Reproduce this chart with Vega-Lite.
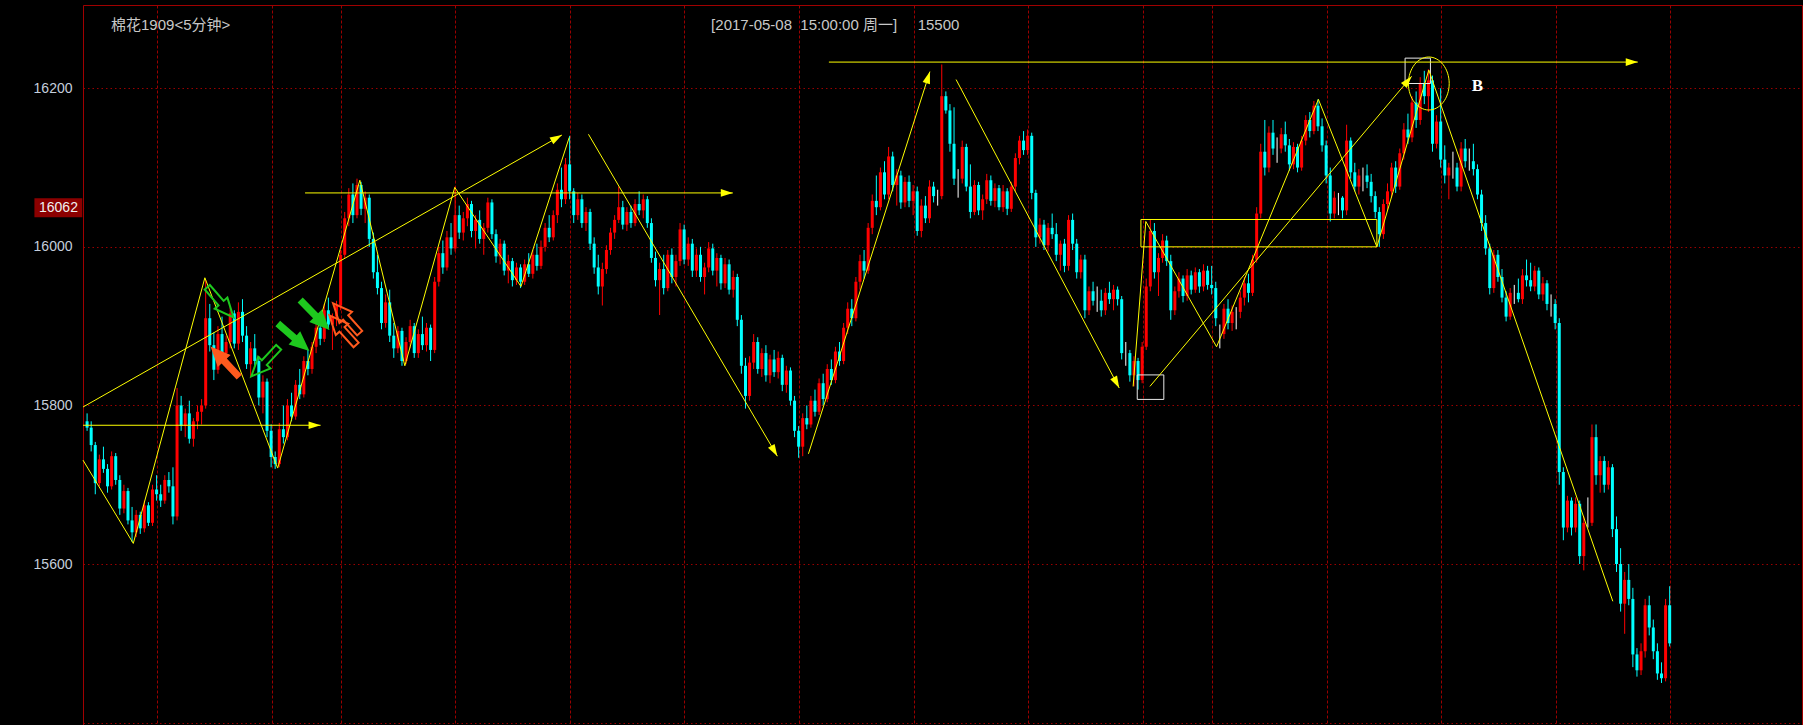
{
"$schema": "https://vega.github.io/schema/vega-lite/v6.json",
"width": 1719, "height": 720,
"autosize": {"type": "none"},
"padding": {"left": 83, "top": 5, "right": 1, "bottom": 0},
"background": "#000000",
"config": {"view": {"stroke": "#a00000", "strokeWidth": 1}},
"datasets": {
"bars": [
{"t":1,"o":15780,"h":15790,"l":15768,"c":15772},{"t":2,"o":15772,"h":15780,"l":15742,"c":15750},{"t":3,"o":15750,"h":15754,"l":15688,"c":15702},{"t":4,"o":15702,"h":15738,"l":15698,"c":15732},{"t":5,"o":15732,"h":15748,"l":15715,"c":15720},{"t":6,"o":15720,"h":15726,"l":15690,"c":15698},{"t":7,"o":15698,"h":15742,"l":15694,"c":15736},{"t":8,"o":15736,"h":15740,"l":15700,"c":15706},{"t":9,"o":15706,"h":15712,"l":15662,"c":15670},{"t":10,"o":15670,"h":15700,"l":15664,"c":15692},
{"t":11,"o":15692,"h":15696,"l":15650,"c":15655},{"t":12,"o":15655,"h":15672,"l":15628,"c":15640},{"t":13,"o":15640,"h":15668,"l":15634,"c":15662},{"t":14,"o":15662,"h":15666,"l":15638,"c":15645},{"t":15,"o":15645,"h":15680,"l":15640,"c":15674},{"t":16,"o":15674,"h":15678,"l":15648,"c":15652},{"t":17,"o":15652,"h":15700,"l":15648,"c":15694},{"t":18,"o":15694,"h":15712,"l":15680,"c":15688},{"t":19,"o":15688,"h":15700,"l":15672,"c":15680},{"t":20,"o":15680,"h":15712,"l":15676,"c":15706},
{"t":21,"o":15706,"h":15716,"l":15690,"c":15698},{"t":22,"o":15698,"h":15722,"l":15650,"c":15660},{"t":23,"o":15660,"h":15822,"l":15655,"c":15800},{"t":24,"o":15800,"h":15812,"l":15768,"c":15774},{"t":25,"o":15774,"h":15796,"l":15760,"c":15790},{"t":26,"o":15790,"h":15806,"l":15752,"c":15758},{"t":27,"o":15758,"h":15784,"l":15748,"c":15780},{"t":28,"o":15780,"h":15800,"l":15770,"c":15792},{"t":29,"o":15792,"h":15808,"l":15776,"c":15800},{"t":30,"o":15800,"h":15958,"l":15796,"c":15910},
{"t":31,"o":15910,"h":15928,"l":15868,"c":15876},{"t":32,"o":15876,"h":15892,"l":15832,"c":15845},{"t":33,"o":15845,"h":15900,"l":15840,"c":15890},{"t":34,"o":15890,"h":15912,"l":15860,"c":15866},{"t":35,"o":15866,"h":15888,"l":15850,"c":15880},{"t":36,"o":15880,"h":15924,"l":15872,"c":15916},{"t":37,"o":15916,"h":15920,"l":15872,"c":15878},{"t":38,"o":15878,"h":15930,"l":15870,"c":15918},{"t":39,"o":15918,"h":15934,"l":15880,"c":15888},{"t":40,"o":15888,"h":15900,"l":15846,"c":15852},
{"t":41,"o":15852,"h":15880,"l":15836,"c":15872},{"t":42,"o":15872,"h":15890,"l":15850,"c":15856},{"t":43,"o":15856,"h":15862,"l":15800,"c":15810},{"t":44,"o":15810,"h":15838,"l":15790,"c":15830},{"t":45,"o":15830,"h":15834,"l":15760,"c":15768},{"t":46,"o":15768,"h":15776,"l":15722,"c":15735},{"t":47,"o":15735,"h":15742,"l":15720,"c":15726},{"t":48,"o":15726,"h":15778,"l":15722,"c":15770},{"t":49,"o":15770,"h":15800,"l":15752,"c":15760},{"t":50,"o":15760,"h":15808,"l":15756,"c":15800},
{"t":51,"o":15800,"h":15816,"l":15780,"c":15786},{"t":52,"o":15786,"h":15832,"l":15782,"c":15826},{"t":53,"o":15826,"h":15846,"l":15808,"c":15814},{"t":54,"o":15814,"h":15862,"l":15810,"c":15856},{"t":55,"o":15856,"h":15870,"l":15838,"c":15846},{"t":56,"o":15846,"h":15880,"l":15840,"c":15874},{"t":57,"o":15874,"h":15905,"l":15866,"c":15898},{"t":58,"o":15898,"h":15912,"l":15876,"c":15884},{"t":59,"o":15884,"h":15928,"l":15880,"c":15920},{"t":60,"o":15920,"h":15936,"l":15896,"c":15902},
{"t":61,"o":15902,"h":15916,"l":15870,"c":15912},{"t":62,"o":15912,"h":15932,"l":15900,"c":15926},{"t":63,"o":15926,"h":15996,"l":15920,"c":15990},{"t":64,"o":15990,"h":16044,"l":15986,"c":16036},{"t":65,"o":16036,"h":16074,"l":16026,"c":16066},{"t":66,"o":16066,"h":16080,"l":16030,"c":16040},{"t":67,"o":16040,"h":16086,"l":16036,"c":16078},{"t":68,"o":16078,"h":16082,"l":16040,"c":16048},{"t":69,"o":16048,"h":16070,"l":16030,"c":16062},{"t":70,"o":16062,"h":16066,"l":16000,"c":16010},
{"t":71,"o":16010,"h":16018,"l":15960,"c":15968},{"t":72,"o":15968,"h":15990,"l":15940,"c":15948},{"t":73,"o":15948,"h":15956,"l":15896,"c":15904},{"t":74,"o":15904,"h":15940,"l":15898,"c":15930},{"t":75,"o":15930,"h":15946,"l":15880,"c":15888},{"t":76,"o":15888,"h":15904,"l":15860,"c":15872},{"t":77,"o":15872,"h":15900,"l":15866,"c":15894},{"t":78,"o":15894,"h":15898,"l":15850,"c":15856},{"t":79,"o":15856,"h":15886,"l":15852,"c":15880},{"t":80,"o":15880,"h":15908,"l":15872,"c":15900},
{"t":81,"o":15900,"h":15904,"l":15860,"c":15866},{"t":82,"o":15866,"h":15896,"l":15860,"c":15890},{"t":83,"o":15890,"h":15912,"l":15870,"c":15876},{"t":84,"o":15876,"h":15904,"l":15868,"c":15898},{"t":85,"o":15898,"h":15902,"l":15856,"c":15870},{"t":86,"o":15870,"h":15962,"l":15866,"c":15956},{"t":87,"o":15956,"h":16000,"l":15950,"c":15992},{"t":88,"o":15992,"h":16008,"l":15966,"c":15974},{"t":89,"o":15974,"h":16020,"l":15970,"c":16012},{"t":90,"o":16012,"h":16030,"l":15990,"c":15998},
{"t":91,"o":15998,"h":16076,"l":15994,"c":16040},{"t":92,"o":16040,"h":16052,"l":16010,"c":16018},{"t":93,"o":16018,"h":16044,"l":16008,"c":16036},{"t":94,"o":16036,"h":16062,"l":16026,"c":16054},{"t":95,"o":16054,"h":16058,"l":16012,"c":16020},{"t":96,"o":16020,"h":16040,"l":15998,"c":16034},{"t":97,"o":16034,"h":16046,"l":16004,"c":16010},{"t":98,"o":16010,"h":16030,"l":15990,"c":16024},{"t":99,"o":16024,"h":16062,"l":16018,"c":16056},{"t":100,"o":16056,"h":16060,"l":16010,"c":16016},
{"t":101,"o":16016,"h":16022,"l":15980,"c":15988},{"t":102,"o":15988,"h":16010,"l":15978,"c":16004},{"t":103,"o":16004,"h":16008,"l":15964,"c":15970},{"t":104,"o":15970,"h":15990,"l":15954,"c":15982},{"t":105,"o":15982,"h":15986,"l":15950,"c":15958},{"t":106,"o":15958,"h":15980,"l":15952,"c":15974},{"t":107,"o":15974,"h":15978,"l":15948,"c":15956},{"t":108,"o":15956,"h":15984,"l":15952,"c":15978},{"t":109,"o":15978,"h":15992,"l":15962,"c":15966},{"t":110,"o":15966,"h":15996,"l":15960,"c":15990},
{"t":111,"o":15990,"h":16004,"l":15970,"c":15976},{"t":112,"o":15976,"h":16008,"l":15972,"c":16000},{"t":113,"o":16000,"h":16030,"l":15994,"c":16024},{"t":114,"o":16024,"h":16040,"l":16006,"c":16012},{"t":115,"o":16012,"h":16046,"l":16008,"c":16040},{"t":116,"o":16040,"h":16080,"l":16030,"c":16072},{"t":117,"o":16072,"h":16100,"l":16050,"c":16060},{"t":118,"o":16060,"h":16112,"l":16054,"c":16104},{"t":119,"o":16104,"h":16140,"l":16060,"c":16070},{"t":120,"o":16070,"h":16074,"l":16030,"c":16040},
{"t":121,"o":16040,"h":16068,"l":16034,"c":16060},{"t":122,"o":16060,"h":16066,"l":16024,"c":16030},{"t":123,"o":16030,"h":16050,"l":16020,"c":16044},{"t":124,"o":16044,"h":16048,"l":15996,"c":16004},{"t":125,"o":16004,"h":16012,"l":15966,"c":15974},{"t":126,"o":15974,"h":15990,"l":15940,"c":15950},{"t":127,"o":15950,"h":15980,"l":15926,"c":15972},{"t":128,"o":15972,"h":16002,"l":15966,"c":15996},{"t":129,"o":15996,"h":16024,"l":15990,"c":16018},{"t":130,"o":16018,"h":16040,"l":16010,"c":16034},
{"t":131,"o":16034,"h":16076,"l":16030,"c":16050},{"t":132,"o":16050,"h":16058,"l":16022,"c":16028},{"t":133,"o":16028,"h":16050,"l":16020,"c":16044},{"t":134,"o":16044,"h":16052,"l":16024,"c":16030},{"t":135,"o":16030,"h":16060,"l":16026,"c":16054},{"t":136,"o":16054,"h":16070,"l":16040,"c":16046},{"t":137,"o":16046,"h":16066,"l":16036,"c":16060},{"t":138,"o":16060,"h":16064,"l":16024,"c":16030},{"t":139,"o":16030,"h":16036,"l":15980,"c":15986},{"t":140,"o":15986,"h":15994,"l":15950,"c":15958},
{"t":141,"o":15958,"h":15980,"l":15914,"c":15972},{"t":142,"o":15972,"h":15990,"l":15940,"c":15948},{"t":143,"o":15948,"h":15996,"l":15944,"c":15990},{"t":144,"o":15990,"h":15998,"l":15954,"c":15962},{"t":145,"o":15962,"h":15990,"l":15950,"c":15982},{"t":146,"o":15982,"h":16030,"l":15976,"c":16022},{"t":147,"o":16022,"h":16028,"l":15978,"c":15984},{"t":148,"o":15984,"h":16012,"l":15976,"c":16004},{"t":149,"o":16004,"h":16010,"l":15962,"c":15970},{"t":150,"o":15970,"h":15998,"l":15962,"c":15990},
{"t":151,"o":15990,"h":16000,"l":15956,"c":15962},{"t":152,"o":15962,"h":15980,"l":15940,"c":15974},{"t":153,"o":15974,"h":16006,"l":15968,"c":15998},{"t":154,"o":15998,"h":16004,"l":15964,"c":15970},{"t":155,"o":15970,"h":15992,"l":15950,"c":15986},{"t":156,"o":15986,"h":15990,"l":15946,"c":15954},{"t":157,"o":15954,"h":15986,"l":15948,"c":15978},{"t":158,"o":15978,"h":15984,"l":15940,"c":15946},{"t":159,"o":15946,"h":15970,"l":15936,"c":15962},{"t":160,"o":15962,"h":15966,"l":15900,"c":15908},
{"t":161,"o":15908,"h":15914,"l":15840,"c":15850},{"t":162,"o":15850,"h":15860,"l":15796,"c":15812},{"t":163,"o":15812,"h":15862,"l":15806,"c":15854},{"t":164,"o":15854,"h":15890,"l":15846,"c":15880},{"t":165,"o":15880,"h":15886,"l":15840,"c":15846},{"t":166,"o":15846,"h":15872,"l":15836,"c":15866},{"t":167,"o":15866,"h":15876,"l":15830,"c":15838},{"t":168,"o":15838,"h":15864,"l":15828,"c":15858},{"t":169,"o":15858,"h":15870,"l":15836,"c":15842},{"t":170,"o":15842,"h":15868,"l":15834,"c":15860},
{"t":171,"o":15860,"h":15864,"l":15818,"c":15826},{"t":172,"o":15826,"h":15850,"l":15816,"c":15844},{"t":173,"o":15844,"h":15848,"l":15800,"c":15806},{"t":174,"o":15806,"h":15812,"l":15760,"c":15768},{"t":175,"o":15768,"h":15774,"l":15734,"c":15748},{"t":176,"o":15748,"h":15790,"l":15736,"c":15784},{"t":177,"o":15784,"h":15800,"l":15770,"c":15776},{"t":178,"o":15776,"h":15812,"l":15772,"c":15806},{"t":179,"o":15806,"h":15820,"l":15786,"c":15792},{"t":180,"o":15792,"h":15834,"l":15788,"c":15828},
{"t":181,"o":15828,"h":15840,"l":15800,"c":15808},{"t":182,"o":15808,"h":15852,"l":15804,"c":15846},{"t":183,"o":15846,"h":15858,"l":15826,"c":15832},{"t":184,"o":15832,"h":15874,"l":15828,"c":15868},{"t":185,"o":15868,"h":15880,"l":15850,"c":15856},{"t":186,"o":15856,"h":15904,"l":15852,"c":15898},{"t":187,"o":15898,"h":15930,"l":15890,"c":15922},{"t":188,"o":15922,"h":15934,"l":15900,"c":15910},{"t":189,"o":15910,"h":15962,"l":15906,"c":15956},{"t":190,"o":15956,"h":15990,"l":15946,"c":15982},
{"t":191,"o":15982,"h":15996,"l":15960,"c":15970},{"t":192,"o":15970,"h":16030,"l":15966,"c":16024},{"t":193,"o":16024,"h":16066,"l":16016,"c":16058},{"t":194,"o":16058,"h":16090,"l":16040,"c":16050},{"t":195,"o":16050,"h":16100,"l":16046,"c":16094},{"t":196,"o":16094,"h":16108,"l":16060,"c":16066},{"t":197,"o":16066,"h":16126,"l":16060,"c":16114},{"t":198,"o":16114,"h":16120,"l":16070,"c":16078},{"t":199,"o":16078,"h":16098,"l":16052,"c":16090},{"t":200,"o":16090,"h":16096,"l":16048,"c":16056},
{"t":201,"o":16056,"h":16088,"l":16050,"c":16082},{"t":202,"o":16082,"h":16090,"l":16050,"c":16058},{"t":203,"o":16058,"h":16078,"l":16040,"c":16070},{"t":204,"o":16070,"h":16076,"l":16014,"c":16020},{"t":205,"o":16020,"h":16060,"l":16012,"c":16052},{"t":206,"o":16052,"h":16064,"l":16030,"c":16036},{"t":207,"o":16036,"h":16084,"l":16030,"c":16076},{"t":208,"o":16076,"h":16082,"l":16056,"c":16064},{"t":209,"o":16064,"h":16072,"l":16052,"c":16064},{"t":210,"o":16064,"h":16230,"l":16060,"c":16190},
{"t":211,"o":16190,"h":16196,"l":16168,"c":16172},{"t":212,"o":16172,"h":16180,"l":16120,"c":16130},{"t":213,"o":16130,"h":16176,"l":16078,"c":16086},{"t":214,"o":16086,"h":16098,"l":16062,"c":16086},{"t":215,"o":16086,"h":16134,"l":16080,"c":16126},{"t":216,"o":16126,"h":16130,"l":16070,"c":16076},{"t":217,"o":16076,"h":16104,"l":16036,"c":16044},{"t":218,"o":16044,"h":16084,"l":16040,"c":16078},{"t":219,"o":16078,"h":16082,"l":16040,"c":16046},{"t":220,"o":16046,"h":16066,"l":16034,"c":16060},
{"t":221,"o":16060,"h":16092,"l":16054,"c":16084},{"t":222,"o":16084,"h":16090,"l":16052,"c":16058},{"t":223,"o":16058,"h":16080,"l":16050,"c":16074},{"t":224,"o":16074,"h":16078,"l":16046,"c":16050},{"t":225,"o":16050,"h":16078,"l":16044,"c":16070},{"t":226,"o":16070,"h":16074,"l":16040,"c":16048},{"t":227,"o":16048,"h":16082,"l":16044,"c":16076},{"t":228,"o":16076,"h":16118,"l":16070,"c":16112},{"t":229,"o":16112,"h":16140,"l":16104,"c":16134},{"t":230,"o":16134,"h":16146,"l":16116,"c":16122},
{"t":231,"o":16122,"h":16148,"l":16116,"c":16140},{"t":232,"o":16140,"h":16144,"l":16060,"c":16068},{"t":233,"o":16068,"h":16072,"l":16000,"c":16012},{"t":234,"o":16012,"h":16036,"l":16004,"c":16028},{"t":235,"o":16028,"h":16034,"l":15996,"c":16002},{"t":236,"o":16002,"h":16030,"l":15994,"c":16024},{"t":237,"o":16024,"h":16042,"l":16010,"c":16016},{"t":238,"o":16016,"h":16030,"l":15982,"c":15990},{"t":239,"o":15990,"h":16008,"l":15970,"c":16004},{"t":240,"o":16004,"h":16010,"l":15968,"c":15976},
{"t":241,"o":15976,"h":16040,"l":15970,"c":16034},{"t":242,"o":16034,"h":16042,"l":15996,"c":16004},{"t":243,"o":16004,"h":16010,"l":15960,"c":15968},{"t":244,"o":15968,"h":15990,"l":15960,"c":15984},{"t":245,"o":15984,"h":15990,"l":15910,"c":15920},{"t":246,"o":15920,"h":15950,"l":15914,"c":15944},{"t":247,"o":15944,"h":15956,"l":15926,"c":15932},{"t":248,"o":15932,"h":15950,"l":15918,"c":15932},{"t":249,"o":15932,"h":15946,"l":15912,"c":15920},{"t":250,"o":15920,"h":15948,"l":15914,"c":15942},
{"t":251,"o":15942,"h":15956,"l":15928,"c":15934},{"t":252,"o":15934,"h":15952,"l":15920,"c":15946},{"t":253,"o":15946,"h":15950,"l":15926,"c":15934},{"t":254,"o":15934,"h":15938,"l":15858,"c":15866},{"t":255,"o":15866,"h":15880,"l":15850,"c":15866},{"t":256,"o":15866,"h":15870,"l":15830,"c":15838},{"t":257,"o":15838,"h":15862,"l":15824,"c":15856},{"t":258,"o":15856,"h":15860,"l":15820,"c":15832},{"t":259,"o":15832,"h":15880,"l":15828,"c":15874},{"t":260,"o":15874,"h":15960,"l":15870,"c":15950},
{"t":261,"o":15950,"h":16034,"l":15944,"c":16020},{"t":262,"o":16020,"h":16030,"l":15960,"c":15968},{"t":263,"o":15968,"h":15992,"l":15938,"c":15986},{"t":264,"o":15986,"h":16016,"l":15980,"c":16008},{"t":265,"o":16008,"h":16014,"l":15976,"c":15982},{"t":266,"o":15982,"h":15990,"l":15908,"c":15920},{"t":267,"o":15920,"h":15950,"l":15914,"c":15944},{"t":268,"o":15944,"h":15968,"l":15936,"c":15960},{"t":269,"o":15960,"h":15964,"l":15930,"c":15938},{"t":270,"o":15938,"h":15972,"l":15932,"c":15964},
{"t":271,"o":15964,"h":15970,"l":15940,"c":15946},{"t":272,"o":15946,"h":15974,"l":15942,"c":15968},{"t":273,"o":15968,"h":15972,"l":15942,"c":15950},{"t":274,"o":15950,"h":15978,"l":15944,"c":15970},{"t":275,"o":15970,"h":15976,"l":15946,"c":15952},{"t":276,"o":15952,"h":15976,"l":15940,"c":15948},{"t":277,"o":15948,"h":15956,"l":15900,"c":15910},{"t":278,"o":15890,"h":15902,"l":15872,"c":15890},{"t":279,"o":15890,"h":15928,"l":15884,"c":15922},{"t":280,"o":15922,"h":15934,"l":15896,"c":15904},
{"t":281,"o":15904,"h":15926,"l":15894,"c":15918},{"t":282,"o":15918,"h":15924,"l":15896,"c":15918},{"t":283,"o":15918,"h":15944,"l":15910,"c":15936},{"t":284,"o":15936,"h":15962,"l":15926,"c":15954},{"t":285,"o":15954,"h":15966,"l":15930,"c":15942},{"t":286,"o":15942,"h":15990,"l":15938,"c":15984},{"t":287,"o":15984,"h":16050,"l":15980,"c":16042},{"t":288,"o":16042,"h":16130,"l":16036,"c":16120},{"t":289,"o":16120,"h":16160,"l":16090,"c":16100},{"t":290,"o":16100,"h":16152,"l":16094,"c":16144},
{"t":291,"o":16144,"h":16160,"l":16116,"c":16124},{"t":292,"o":16124,"h":16138,"l":16106,"c":16124},{"t":293,"o":16124,"h":16150,"l":16118,"c":16142},{"t":294,"o":16142,"h":16158,"l":16120,"c":16128},{"t":295,"o":16128,"h":16136,"l":16096,"c":16104},{"t":296,"o":16104,"h":16132,"l":16098,"c":16126},{"t":297,"o":16126,"h":16130,"l":16094,"c":16100},{"t":298,"o":16100,"h":16140,"l":16096,"c":16134},{"t":299,"o":16134,"h":16166,"l":16128,"c":16160},{"t":300,"o":16160,"h":16170,"l":16138,"c":16146},
{"t":301,"o":16146,"h":16184,"l":16142,"c":16178},{"t":302,"o":16178,"h":16186,"l":16146,"c":16152},{"t":303,"o":16152,"h":16162,"l":16120,"c":16128},{"t":304,"o":16128,"h":16134,"l":16080,"c":16090},{"t":305,"o":16090,"h":16100,"l":16032,"c":16042},{"t":306,"o":16042,"h":16070,"l":16036,"c":16062},{"t":307,"o":16062,"h":16068,"l":16040,"c":16062},{"t":308,"o":16062,"h":16064,"l":16036,"c":16046},{"t":309,"o":16046,"h":16154,"l":16040,"c":16134},{"t":310,"o":16134,"h":16138,"l":16086,"c":16094},
{"t":311,"o":16094,"h":16106,"l":16070,"c":16076},{"t":312,"o":16076,"h":16098,"l":16066,"c":16090},{"t":313,"o":16090,"h":16100,"l":16070,"c":16090},{"t":314,"o":16090,"h":16104,"l":16074,"c":16082},{"t":315,"o":16082,"h":16092,"l":16056,"c":16064},{"t":316,"o":16064,"h":16070,"l":16036,"c":16044},{"t":317,"o":16044,"h":16050,"l":16000,"c":16016},{"t":318,"o":16016,"h":16060,"l":16010,"c":16054},{"t":319,"o":16054,"h":16080,"l":16046,"c":16070},{"t":320,"o":16070,"h":16106,"l":16062,"c":16100},
{"t":321,"o":16100,"h":16108,"l":16068,"c":16076},{"t":322,"o":16076,"h":16124,"l":16072,"c":16118},{"t":323,"o":16118,"h":16156,"l":16110,"c":16148},{"t":324,"o":16148,"h":16168,"l":16130,"c":16138},{"t":325,"o":16138,"h":16190,"l":16132,"c":16182},{"t":326,"o":16182,"h":16196,"l":16150,"c":16160},{"t":327,"o":16160,"h":16214,"l":16154,"c":16206},{"t":328,"o":16206,"h":16222,"l":16180,"c":16190},{"t":329,"o":16190,"h":16224,"l":16170,"c":16210},{"t":330,"o":16210,"h":16216,"l":16120,"c":16130},
{"t":331,"o":16130,"h":16166,"l":16124,"c":16158},{"t":332,"o":16158,"h":16200,"l":16100,"c":16110},{"t":333,"o":16110,"h":16128,"l":16080,"c":16090},{"t":334,"o":16090,"h":16106,"l":16060,"c":16100},{"t":335,"o":16100,"h":16120,"l":16086,"c":16100},{"t":336,"o":16100,"h":16106,"l":16070,"c":16076},{"t":337,"o":16076,"h":16132,"l":16070,"c":16124},{"t":338,"o":16124,"h":16136,"l":16100,"c":16108},{"t":339,"o":16108,"h":16124,"l":16096,"c":16108},{"t":340,"o":16108,"h":16130,"l":16090,"c":16098},
{"t":341,"o":16098,"h":16104,"l":16060,"c":16066},{"t":342,"o":16066,"h":16072,"l":16020,"c":16030},{"t":343,"o":16030,"h":16040,"l":15990,"c":15998},{"t":344,"o":15998,"h":16004,"l":15940,"c":15948},{"t":345,"o":15948,"h":15996,"l":15942,"c":15990},{"t":346,"o":15990,"h":15996,"l":15956,"c":15962},{"t":347,"o":15962,"h":15972,"l":15930,"c":15936},{"t":348,"o":15936,"h":15944,"l":15906,"c":15912},{"t":349,"o":15912,"h":15948,"l":15908,"c":15942},{"t":350,"o":15942,"h":15952,"l":15928,"c":15942},
{"t":351,"o":15942,"h":15960,"l":15930,"c":15934},{"t":352,"o":15934,"h":15972,"l":15928,"c":15964},{"t":353,"o":15964,"h":15984,"l":15950,"c":15958},{"t":354,"o":15958,"h":15980,"l":15944,"c":15950},{"t":355,"o":15950,"h":15976,"l":15944,"c":15970},{"t":356,"o":15970,"h":15974,"l":15934,"c":15940},{"t":357,"o":15940,"h":15962,"l":15932,"c":15954},{"t":358,"o":15954,"h":15958,"l":15920,"c":15928},{"t":359,"o":15928,"h":15940,"l":15912,"c":15928},{"t":360,"o":15928,"h":15934,"l":15896,"c":15904},
{"t":361,"o":15904,"h":15910,"l":15700,"c":15716},{"t":362,"o":15716,"h":15722,"l":15630,"c":15646},{"t":363,"o":15646,"h":15686,"l":15640,"c":15680},{"t":364,"o":15680,"h":15684,"l":15636,"c":15646},{"t":365,"o":15646,"h":15684,"l":15640,"c":15676},{"t":366,"o":15676,"h":15680,"l":15600,"c":15610},{"t":367,"o":15610,"h":15660,"l":15592,"c":15652},{"t":368,"o":15652,"h":15684,"l":15646,"c":15652},{"t":369,"o":15652,"h":15776,"l":15648,"c":15760},{"t":370,"o":15760,"h":15776,"l":15700,"c":15712},
{"t":371,"o":15712,"h":15736,"l":15690,"c":15730},{"t":372,"o":15730,"h":15736,"l":15690,"c":15700},{"t":373,"o":15700,"h":15730,"l":15694,"c":15722},{"t":374,"o":15722,"h":15726,"l":15634,"c":15644},{"t":375,"o":15644,"h":15660,"l":15590,"c":15600},{"t":376,"o":15600,"h":15620,"l":15540,"c":15550},{"t":377,"o":15550,"h":15590,"l":15512,"c":15580},{"t":378,"o":15580,"h":15600,"l":15548,"c":15556},{"t":379,"o":15556,"h":15570,"l":15470,"c":15486},{"t":380,"o":15486,"h":15494,"l":15458,"c":15466},
{"t":381,"o":15466,"h":15500,"l":15460,"c":15490},{"t":382,"o":15490,"h":15556,"l":15482,"c":15548},{"t":383,"o":15548,"h":15560,"l":15510,"c":15520},{"t":384,"o":15520,"h":15530,"l":15480,"c":15490},{"t":385,"o":15490,"h":15500,"l":15454,"c":15462},{"t":386,"o":15462,"h":15476,"l":15450,"c":15456},{"t":387,"o":15456,"h":15556,"l":15452,"c":15548},{"t":388,"o":15548,"h":15572,"l":15496,"c":15500}
],
"lines": [
{"g":"zz1","t":0,"p":15731},{"g":"zz1","t":12.3,"p":15626},{"g":"zz1","t":29.8,"p":15961},{"g":"zz1","t":47.6,"p":15721},{"g":"zz1","t":67.7,"p":16084},{"g":"zz1","t":78.7,"p":15850},{"g":"zz1","t":90.9,"p":16075},{"g":"zz1","t":107.1,"p":15950},{"g":"zz1","t":118.9,"p":16138},
{"g":"up1","t":0,"p":15798},{"g":"up1","t":117.1,"p":16141},
{"g":"h1","t":0,"p":15775},{"g":"h1","t":58.1,"p":15775},
{"g":"h2","t":54.3,"p":16068},{"g":"h2","t":158.9,"p":16068},
{"g":"d1","t":123.6,"p":16142},{"g":"d1","t":169.8,"p":15736},
{"g":"u2","t":177.4,"p":15739},{"g":"u2","t":207.1,"p":16221},
{"g":"d2","t":213.5,"p":16211},{"g":"d2","t":253.4,"p":15822},
{"g":"h3","t":182.4,"p":16233},{"g":"h3","t":380.2,"p":16233},
{"g":"u3","t":260.9,"p":15824},{"g":"u3","t":324.9,"p":16215},
{"g":"zz2","t":256.8,"p":15824},{"g":"zz2","t":259.9,"p":16032},{"g":"zz2","t":277.2,"p":15874},{"g":"zz2","t":302.1,"p":16186},{"g":"zz2","t":316.4,"p":16000},{"g":"zz2","t":329.1,"p":16223},{"g":"zz2","t":374.1,"p":15553}
],
"heads": [
{"t":117.1,"p":16141,"a":330.5},{"t":58.1,"p":15775,"a":0},{"t":158.9,"p":16068,"a":0},{"t":169.8,"p":15736,"a":59.6},{"t":207.1,"p":16221,"a":287.6},{"t":253.4,"p":15822,"a":62.1},{"t":380.2,"p":16233,"a":0},{"t":324.9,"p":16215,"a":310.2}
],
"arrowsSolid": [
{"t":34.7,"p":15855,"a":226.8,"side":"up"},{"t":51.5,"p":15886,"a":41.1,"side":"down"},{"t":56.7,"p":15914,"a":45.6,"side":"down"}
],
"arrowsOutline": [
{"t":33.6,"p":15930,"a":49,"side":"down"},{"t":44.5,"p":15855,"a":133.2,"side":"down"},{"t":64.4,"p":15910,"a":228.3,"side":"up"},{"t":63.5,"p":15895,"a":228,"side":"up"}
]
},
"layer": [
{
"data": {"name": "bars"},
"mark": {"type": "rule", "strokeWidth": 1},
"encoding": {
"x": {"field": "t", "type": "quantitative",
"scale": {"domain": [0, 420.36], "nice": false, "zero": false},
"axis": {"values": [18.1, 46.2, 63.1, 91, 119, 147, 175.1, 203.2, 231.2, 259.1, 276, 304.1, 332.1, 360.1, 388.2], "grid": true, "gridColor": "#9a0000", "gridDash": [3, 2], "gridWidth": 1, "labels": false, "ticks": false, "domain": false, "title": null}},
"y": {"field": "l", "type": "quantitative",
"scale": {"domain": [15397, 16305], "nice": false, "zero": false},
"axis": {"values": [15400, 15600, 15800, 16000, 16200], "labelExpr": "datum.value == 15400 ? '' : datum.label", "format": "d", "grid": true, "gridColor": "#9a0000", "gridDash": [1.5, 3], "gridWidth": 1, "ticks": false, "domain": false, "title": null, "labelColor": "#c4cedc", "labelFont": "Liberation Sans", "labelFontSize": 14, "labelPadding": 11}},
"y2": {"field": "h"},
"color": {"condition": [{"test": "datum.c > datum.o", "value": "#ff0000"}, {"test": "datum.c < datum.o", "value": "#00ffff"}], "value": "#ffffff"}
}
},
{
"data": {"name": "bars"},
"mark": {"type": "rule", "strokeWidth": 3, "strokeCap": "butt"},
"encoding": {
"x": {"field": "t", "type": "quantitative"},
"y": {"field": "o", "type": "quantitative"},
"y2": {"field": "c"},
"color": {"condition": [{"test": "datum.c > datum.o", "value": "#ff0000"}, {"test": "datum.c < datum.o", "value": "#00ffff"}], "value": "#ffffff"}
}
},
{
"data": {"values": [{"t": 258.7, "t2": 316.4, "p": 16000, "p2": 16034.5}]},
"mark": {"type": "rect", "filled": false, "color": "#ffff00", "strokeWidth": 1},
"encoding": {"x": {"field": "t", "type": "quantitative"}, "x2": {"field": "t2"}, "y": {"field": "p", "type": "quantitative"}, "y2": {"field": "p2"}}
},
{
"data": {"values": [{"t": 257.8, "t2": 264.3, "p": 15807.6, "p2": 15838.5}, {"t": 323.3, "t2": 329.5, "p": 16206, "p2": 16238}]},
"mark": {"type": "rect", "filled": false, "color": "#e8e8e8", "strokeWidth": 1},
"encoding": {"x": {"field": "t", "type": "quantitative"}, "x2": {"field": "t2"}, "y": {"field": "p", "type": "quantitative"}, "y2": {"field": "p2"}}
},
{
"data": {"name": "lines"},
"mark": {"type": "line", "color": "#ffff00", "strokeWidth": 1},
"encoding": {"x": {"field": "t", "type": "quantitative"}, "y": {"field": "p", "type": "quantitative"}, "detail": {"field": "g"}}
},
{
"data": {"name": "heads"},
"mark": {"type": "point", "shape": "M0,0 L-1,-0.32 L-1,0.32 Z", "filled": true, "color": "#ffff00", "opacity": 1, "size": 576},
"encoding": {"x": {"field": "t", "type": "quantitative"}, "y": {"field": "p", "type": "quantitative"}, "angle": {"field": "a", "type": "quantitative", "scale": null}}
},
{
"data": {"name": "arrowsSolid"},
"mark": {"type": "point", "shape": "M1,0 L0.05,-0.42 L0.05,-0.17 L-1,-0.17 L-1,0.17 L0.05,0.17 L0.05,0.42 Z", "filled": true, "opacity": 1, "size": 1764},
"encoding": {"x": {"field": "t", "type": "quantitative"}, "y": {"field": "p", "type": "quantitative"}, "angle": {"field": "a", "type": "quantitative", "scale": null},
"color": {"field": "side", "type": "nominal", "scale": {"domain": ["up", "down"], "range": ["#ff5a1e", "#1ec81e"]}, "legend": null}}
},
{
"data": {"name": "arrowsOutline"},
"mark": {"type": "point", "shape": "M1,0 L0.05,-0.42 L0.05,-0.17 L-1,-0.17 L-1,0.17 L0.05,0.17 L0.05,0.42 Z", "filled": false, "opacity": 1, "strokeWidth": 2, "size": 1600},
"encoding": {"x": {"field": "t", "type": "quantitative"}, "y": {"field": "p", "type": "quantitative"}, "angle": {"field": "a", "type": "quantitative", "scale": null},
"color": {"field": "side", "type": "nominal", "legend": null}}
},
{
"data": {"values": [{"t": 329.1, "p": 16206}]},
"mark": {"type": "point", "shape": "M-0.77,0 A0.77,1 0 1,0 0.77,0 A0.77,1 0 1,0 -0.77,0 Z", "filled": false, "color": "#ffff00", "opacity": 1, "strokeWidth": 1, "size": 2809},
"encoding": {"x": {"field": "t", "type": "quantitative"}, "y": {"field": "p", "type": "quantitative"}}
},
{
"data": {"values": [{"t": 341, "p": 16203, "s": "B"}]},
"mark": {"type": "text", "font": "Liberation Serif", "fontWeight": "bold", "fontSize": 17, "color": "#ffffff", "align": "center", "baseline": "middle"},
"encoding": {"x": {"field": "t", "type": "quantitative"}, "y": {"field": "p", "type": "quantitative"}, "text": {"field": "s"}}
},
{
"data": {"values": [{"t": -11.88, "t2": -0.17, "p": 16061.3, "p2": 16037.3}]},
"mark": {"type": "rect", "color": "#8c0000"},
"encoding": {"x": {"field": "t", "type": "quantitative"}, "x2": {"field": "t2"}, "y": {"field": "p", "type": "quantitative"}, "y2": {"field": "p2"}}
},
{
"data": {"values": [{"t": -6.0, "p": 16049.3, "s": "16062"}]},
"mark": {"type": "text", "font": "Liberation Sans", "fontSize": 14, "color": "#f0f0f0", "align": "center", "baseline": "middle"},
"encoding": {"x": {"field": "t", "type": "quantitative"}, "y": {"field": "p", "type": "quantitative"}, "text": {"field": "s"}}
},
{
"data": {"values": [{"t": 6.85, "p": 16280.4, "s": "棉花1909<5分钟>"}, {"t": 153.6, "p": 16280.4, "s": "[2017-05-08\u00a0\u00a015:00:00 周一]"}, {"t": 204.1, "p": 16280.4, "s": "15500"}]},
"mark": {"type": "text", "font": "Liberation Sans, Noto Sans CJK SC", "fontSize": 15, "color": "#c8c8c8", "align": "left", "baseline": "middle"},
"encoding": {"x": {"field": "t", "type": "quantitative"}, "y": {"field": "p", "type": "quantitative"}, "text": {"field": "s"}}
}
]
}
